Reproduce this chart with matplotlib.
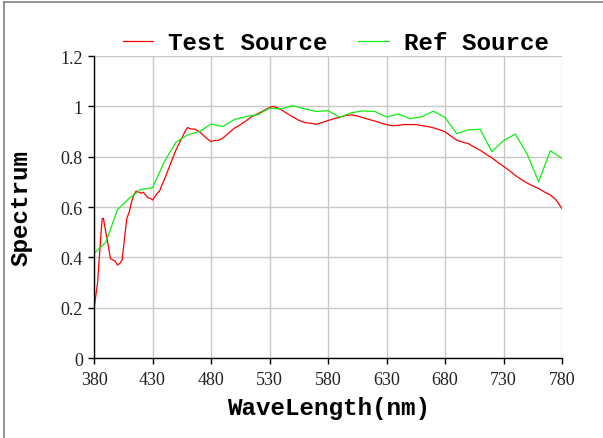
import matplotlib
matplotlib.use("Agg")
import matplotlib.pyplot as plt
from matplotlib.lines import Line2D

# Ref Source (10 nm steps)
ref_wl = [380, 390, 400, 410, 420, 430, 440, 450, 460, 470, 480, 490, 500, 510, 520,
          530, 540, 550, 560, 570, 580, 590, 600, 610, 620, 630, 640, 650, 660, 670,
          680, 690, 700, 710, 720, 730, 740, 750, 760, 770, 780]
ref_val = [0.416, 0.46, 0.59, 0.635, 0.67, 0.677, 0.78, 0.858, 0.887, 0.90, 0.93, 0.92,
           0.948, 0.96, 0.967, 0.993, 0.99, 1.003, 0.99, 0.98, 0.983, 0.957, 0.975,
           0.982, 0.98, 0.958, 0.97, 0.951, 0.959, 0.981, 0.956, 0.892, 0.907, 0.909,
           0.82, 0.864, 0.89, 0.813, 0.70, 0.824, 0.793]

# Test Source
test_wl = [380, 383, 386, 387, 388, 390, 392, 394, 396, 398, 400, 402, 404, 406, 408,
           410, 412, 414, 416, 418, 420, 422, 424, 426, 428, 430, 432, 434, 436, 438,
           440, 445, 450, 455, 458, 460, 463, 466, 470, 473, 476, 480, 483, 486, 490,
           495, 500, 505, 510, 515, 520, 525, 530, 533, 536, 540, 545, 550, 555, 560,
           565, 570, 575, 580, 585, 590, 595, 600, 605, 610, 615, 620, 625, 630, 635,
           640, 645, 650, 655, 660, 665, 670, 675, 680, 685, 690, 695, 700, 705, 710,
           715, 720, 725, 730, 735, 740, 745, 750, 755, 760, 765, 770, 775, 780]
test_val = [0.197, 0.30, 0.50, 0.555, 0.555, 0.50, 0.45, 0.395, 0.39, 0.385, 0.37, 0.376,
            0.39, 0.475, 0.555, 0.58, 0.62, 0.648, 0.664, 0.66, 0.655, 0.659, 0.648,
            0.637, 0.635, 0.628, 0.641, 0.655, 0.664, 0.688, 0.708, 0.768, 0.827, 0.874,
            0.903, 0.916, 0.91, 0.91, 0.90, 0.887, 0.874, 0.86, 0.865, 0.865, 0.874,
            0.894, 0.914, 0.927, 0.943, 0.96, 0.971, 0.983, 0.996, 1.0, 0.996, 0.987,
            0.972, 0.958, 0.945, 0.936, 0.933, 0.929, 0.936, 0.944, 0.951, 0.957, 0.964,
            0.966, 0.962, 0.955, 0.948, 0.942, 0.934, 0.928, 0.923, 0.925, 0.928, 0.928,
            0.928, 0.924, 0.92, 0.915, 0.908, 0.899, 0.882, 0.866, 0.858, 0.852, 0.838,
            0.826, 0.81, 0.796, 0.778, 0.762, 0.745, 0.726, 0.71, 0.696, 0.684, 0.674,
            0.66, 0.648, 0.628, 0.594]

xticks = [380, 430, 480, 530, 580, 630, 680, 730, 780]
yticks = [0, 0.2, 0.4, 0.6, 0.8, 1.0, 1.2]
ytick_labels = ["0", "0.2", "0.4", "0.6", "0.8", "1", "1.2"]

fig = plt.figure(figsize=(6.03, 4.39), dpi=100)
ax = fig.add_axes([0.156, 0.182, 0.776, 0.688])

ax.plot(test_wl, test_val, color="#ff0000", lw=0.9, label="Test Source")
ax.plot(ref_wl, ref_val, color="#11ee11", lw=0.9, label="Ref Source")

ax.set_xlim(380, 780)
ax.set_ylim(0, 1.2)
ax.set_xticks(xticks)
ax.set_yticks(yticks)
ax.set_yticklabels(ytick_labels)
ax.grid(True, color="#c8c8c8", lw=1.0)
ax.set_axisbelow(True)
for s in ["top", "right"]:
    ax.spines[s].set_visible(False)
for s in ["left", "bottom"]:
    ax.spines[s].set_color("black")
    ax.spines[s].set_linewidth(1.0)
ax.tick_params(direction="out", length=4, width=1, labelsize=13, pad=4)
ax.tick_params(axis="x", pad=5)
for lab in ax.get_xticklabels() + ax.get_yticklabels():
    lab.set_fontfamily("Liberation Serif")
    lab.set_color("#222222")

mono = {"family": "Liberation Mono", "weight": "bold", "size": 17.5}
ax.set_xlabel("WaveLength(nm)", fontdict=mono, labelpad=6)
ax.set_ylabel("Spectrum", fontdict=mono, labelpad=20)

leg = ax.legend(loc="center left", bbox_to_anchor=(0.204, 0.9), bbox_transform=fig.transFigure,
                ncol=2, frameon=False, handlelength=1.25, handletextpad=0.62,
                columnspacing=1.25, prop={"family": "Liberation Mono", "weight": "bold", "size": 17.5},
                borderaxespad=0, borderpad=0)

# figure frame (top and left)
fig.add_artist(Line2D([0.006, 1.0], [0.993, 0.993], transform=fig.transFigure, color="#808080", lw=1.2))
fig.add_artist(Line2D([0.006, 0.006], [0.0, 0.993], transform=fig.transFigure, color="#808080", lw=1.2))

fig.savefig("out.png", dpi=100)
